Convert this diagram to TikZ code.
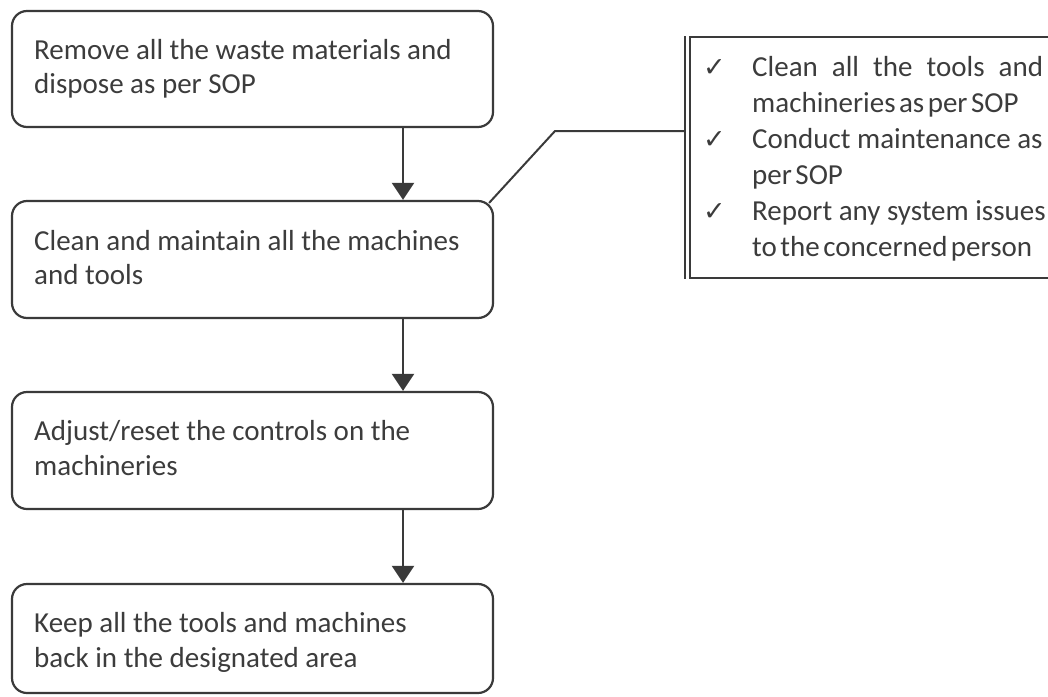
\documentclass[tikz,border=0pt]{standalone}
\usepackage{fontspec}
\setmainfont{Carlito}
\newfontfamily\symfont{DejaVu Sans}
\usetikzlibrary{arrows.meta,calc}
\definecolor{ink}{HTML}{3A3A3A}
\definecolor{txt}{HTML}{3C3C3C}
\begin{document}
\begin{tikzpicture}[x=1pt,y=-1pt,
  stepbox/.style={draw=ink,line width=2.2pt,rounded corners=15pt,
    minimum width=481pt,inner sep=0pt},
  flow/.style={draw=ink,line width=2.2pt,-{Triangle[width=22pt,length=17pt]}},
  lbl/.style={anchor=base west,inner sep=0pt,text=txt,
    font=\fontsize{29}{35}\selectfont},
  tick/.style={anchor=base west,inner sep=0pt,text=txt,
    font=\symfont\fontsize{27}{27}\selectfont},
  link/.style={draw=ink,line width=2pt},
  notebox/.style={draw=ink,line width=2pt,inner sep=0pt,
    minimum width=370pt,minimum height=241pt}]
\useasboundingbox (0,0) rectangle (1048,696);

% process steps
\node[stepbox,minimum height=116pt] (b1) at (252.5,69) {};
\node[stepbox,minimum height=117pt] (b2) at (252.5,259.5) {};
\node[stepbox,minimum height=117pt] (b3) at (252.5,450.5) {};
\node[stepbox,minimum height=109pt] (b4) at (252.5,638.5) {};

\node[lbl] (t1a) at (34,59.5) {Remove all the waste materials and};
\node[lbl] (t1b) at (34,93.5) {dispose as per SOP};
\node[lbl] (t2a) at (34,250) {Clean and maintain all the machines};
\node[lbl] (t2b) at (34,284.5) {and tools};
\node[lbl] (t3a) at (34,440.5) {Adjust/reset the controls on the};
\node[lbl] (t3b) at (34,475.5) {machineries};
\node[lbl] (t4a) at (34,632) {Keep all the tools and machines};
\node[lbl] (t4b) at (34,667) {back in the designated area};

% arrows between steps
\coordinate (ax) at (403,0);
\draw[flow] (b1.south -| ax) -- (b2.north -| ax);
\draw[flow] (b2.south -| ax) -- (b3.north -| ax);
\draw[flow] (b3.south -| ax) -- (b4.north -| ax);

% detail box for step 2
\node[notebox] (note) at (875,157.5) {};
\coordinate (bartop) at ($(note.north west)+(-4,0)$);
\coordinate (barbot) at ($(note.south west)+(-4,0)$);
\draw[link] (bartop) -- (barbot);
\coordinate (kink) at (555,131);
\draw[link] ($(b2.north east)+(-5,3)$) -- (kink) -- (kink -| bartop);

\node[tick] (c1) at (703,76) {✓};
\node[tick] (c2) at (703,148) {✓};
\node[tick] (c3) at (703,220) {✓};
\node[lbl] (n1) at (752,76) {\makebox[291pt][s]{Clean all the tools and}};
\node[lbl] (n2) at (752,112) {\spaceskip=0.12em\relax machineries as per SOP};
\node[lbl] (n3) at (752,148) {Conduct maintenance as};
\node[lbl] (n4) at (752,184.5) {\spaceskip=0.12em\relax per SOP};
\node[lbl] (n5) at (752,220) {Report any system issues};
\node[lbl] (n6) at (752,256) {\spaceskip=0.12em\relax to the concerned person};
\end{tikzpicture}
\end{document}
